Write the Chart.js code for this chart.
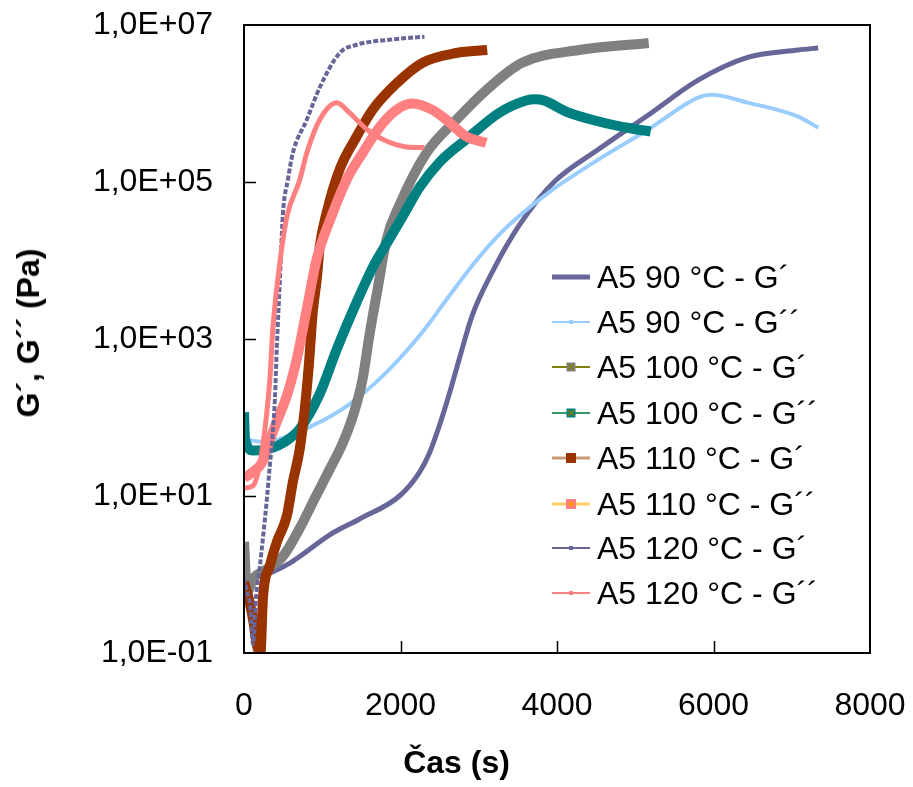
<!DOCTYPE html>
<html>
<head>
<meta charset="utf-8">
<script src="https://cdn.jsdelivr.net/npm/chart.js@4.4.1/dist/chart.umd.min.js"></script>
<style>
  html, body { margin: 0; padding: 0; background: #fff; }
  #wrap { position: relative; width: 913px; height: 787px; font-family: "Liberation Sans", Arial, sans-serif; color: #000; }
  #chart { position: absolute; left: 0; top: 0; }
  .ttl { position: absolute; font-weight: bold; font-size: 32px; line-height: 32px; white-space: nowrap; }
  #xTitle { left: 0; width: 913px; text-align: center; top: 746px; }
  #yTitle { left: 28px; top: 333px; transform: translate(-50%, -50%) rotate(-90deg); }
  .leg-row { position: absolute; left: 552px; height: 32px; display: flex; align-items: center; font-size: 32px; line-height: 32px; white-space: nowrap; }
  .leg-row svg { width: 45px; height: 32px; flex: none; }
</style>
</head>
<body>
<div id="wrap">
  <canvas id="chart" width="913" height="787"></canvas>
  <div class="ttl" id="xTitle">Čas (s)</div>
  <div class="ttl" id="yTitle">G´, G´´ (Pa)</div>
  <div id="legend"></div>
</div>
<script>
// Axis ticks
const xTicks = [0, 2000, 4000, 6000, 8000];
const yTicks = [0.1, 10, 1000, 1e5, 1e7];

const seriesNames = [
  'A5 90 °C - G´', 'A5 90 °C - G´´', 'A5 100 °C - G´', 'A5 100 °C - G´´',
  'A5 110 °C - G´', 'A5 110 °C - G´´', 'A5 120 °C - G´', 'A5 120 °C - G´´'
];

// time (s) and modulus (Pa)
const t90G1 = [300, 586, 713, 1096, 1478, 1987, 2242, 2369, 2497, 2624, 2752, 2917, 3172, 3516, 3962, 4535, 5172, 5809, 6446, 7083, 7338];
const g90G1 = [1.0, 1.4, 1.7, 3.2, 5.1, 10, 20, 35, 79, 200, 560, 2000, 7100, 28000, 100000, 263000, 720000, 2.0e6, 3.9e6, 4.8e6, 5.1e6];

const t90G2 = [20, 268, 586, 841, 1096, 1350, 1669, 1987, 2306, 2624, 2943, 3261, 3580, 3898, 4535, 5172, 5809, 5975, 6446, 7083, 7338];
const g90G2 = [52, 49, 59, 76, 102, 148, 270, 560, 1320, 3550, 9300, 21400, 41700, 74000, 195000, 470000, 1.2e6, 1.29e6, 1.02e6, 680000, 490000];

const t100G1 = [0, 40, 120, 250, 497, 713, 904, 1096, 1261, 1389, 1516, 1605, 1707, 1822, 1987, 2331, 2714, 3134, 3554, 4280, 5172];
const g100G1 = [2.6, 0.6, 0.9, 1.1, 1.7, 3.9, 9.3, 22, 47, 102, 310, 1150, 4300, 18600, 51000, 234000, 620000, 1.6e6, 3.3e6, 4.8e6, 5.9e6];

const t100G2 = [0, 13, 115, 331, 522, 713, 968, 1185, 1440, 1643, 1860, 2051, 2242, 2497, 2841, 3261, 3605, 3720, 3834, 4115, 4535, 4955, 5197];
const g100G2 = [117, 54, 38, 40, 49, 72, 200, 740, 2950, 8100, 19000, 40000, 85000, 178000, 350000, 760000, 1.09e6, 1.13e6, 1.09e6, 790000, 590000, 480000, 440000];

const t110G1 = [0, 60, 120, 170, 210, 242, 331, 420, 548, 624, 713, 777, 828, 879, 930, 968, 1057, 1223, 1440, 1643, 1949, 2280, 2714, 3108];
const g110G1 = [0.8, 0.5, 0.25, 0.12, 0.1, 0.5, 1.3, 2.6, 5.6, 15, 40, 130, 460, 2200, 5800, 15000, 41000, 145000, 380000, 830000, 1.8e6, 3.3e6, 4.4e6, 4.8e6];

const t110G2 = [0, 76, 242, 306, 420, 548, 675, 802, 930, 1096, 1312, 1516, 1733, 1949, 2153, 2408, 2586, 2841, 3096];
const g110G2 = [17, 19, 28, 44, 89, 190, 560, 2400, 10500, 32000, 107000, 234000, 500000, 830000, 1.0e6, 830000, 620000, 380000, 316000];

const t120G1 = [0, 40, 80, 115, 153, 204, 242, 293, 331, 369, 395, 420, 459, 497, 561, 624, 802, 968, 1223, 1440, 1860, 2306];
const g120G1 = [0.9, 0.6, 0.4, 0.13, 0.5, 1.3, 2.9, 9.3, 25, 66, 174, 810, 5800, 39000, 107000, 234000, 620000, 1.6e6, 4.4e6, 5.6e6, 6.5e6, 7.1e6];

const t120G2 = [0, 115, 204, 268, 331, 369, 459, 548, 713, 802, 968, 1185, 1350, 1567, 1771, 2076, 2306];
const g120G2 = [12.6, 13.5, 26, 72, 310, 1350, 9500, 36000, 107000, 234000, 620000, 1.02e6, 760000, 470000, 350000, 280000, 275000];

const seriesT = [t90G1, t90G2, t100G1, t100G2, t110G1, t110G2, t120G1, t120G2];
const seriesG = [g90G1, g90G2, g100G1, g100G2, g110G1, g110G2, g120G1, g120G2];

const lineColors = ['#666699', '#99CCFF', '#808080', '#008080', '#993300', '#FF8080', '#666699', '#FF8080'];
const lineWidths = [5, 4, 10, 10, 10, 10, 4, 5];

// legend symbols (line colour, line width, marker colour, marker size)
const legLine = ['#666699', '#99CCFF', '#808000', '#339966', '#CC9977', '#FFCC66', '#666699', '#FF8080'];
const legLineW = [5, 2, 2, 2, 3, 3, 2, 2];
const legMark = ['#666699', '#99CCFF', '#808080', '#008080', '#993300', '#FF8080', '#666699', '#FF8080'];
const legMarkS = [3, 4, 9, 9, 10, 10, 4, 4];
const legRowY = [277, 322, 367, 413, 458, 504, 548, 593];

function sci(v) {
  const e = Math.round(Math.log10(v));
  return '1,0E' + (e < 0 ? '-' : '+') + String(Math.abs(e)).padStart(2, '0');
}

const datasets = seriesT.map((ts, i) => ({
  label: seriesNames[i],
  data: ts.map((t, j) => ({ x: t, y: seriesG[i][j] })),
  showLine: true,
  borderColor: lineColors[i],
  backgroundColor: lineColors[i],
  borderWidth: lineWidths[i],
  borderDash: i === 6 ? [5, 2] : [],
  pointRadius: 0,
  cubicInterpolationMode: 'monotone',
  borderJoinStyle: 'round',
  order: 7 - i
}));

const frame = {
  id: 'frame',
  afterDraw(chart) {
    const { ctx, chartArea: a, scales: { x, y } } = chart;
    ctx.save();
    ctx.strokeStyle = '#000';
    ctx.lineWidth = 1.5;
    ctx.beginPath();
    xTicks.slice(1, -1).forEach(v => {
      const px = Math.round(x.getPixelForValue(v)) + 0.5;
      ctx.moveTo(px, a.bottom); ctx.lineTo(px, a.bottom - 12);
    });
    yTicks.slice(1, -1).forEach(v => {
      const py = Math.round(y.getPixelForValue(v)) + 0.5;
      ctx.moveTo(a.left, py); ctx.lineTo(a.left + 12, py);
    });
    ctx.stroke();
    ctx.lineWidth = 2;
    ctx.strokeRect(a.left, a.top, a.right - a.left, a.bottom - a.top);
    ctx.restore();
  }
};

new Chart(document.getElementById('chart'), {
  type: 'scatter',
  data: { datasets },
  options: {
    responsive: false,
    animation: false,
    layout: { padding: { top: 25, right: 43, bottom: 0, left: 0 } },
    plugins: { legend: { display: false }, tooltip: { enabled: false } },
    scales: {
      x: {
        type: 'linear', min: 0, max: 8000,
        afterBuildTicks: s => { s.ticks = xTicks.map(v => ({ value: v })); },
        afterFit: s => { s.height = 134; s.paddingLeft = 0; s.paddingRight = 0; },
        grid: { display: false, drawTicks: false },
        border: { display: false },
        ticks: { color: '#000', padding: 34, maxRotation: 0, callback: v => String(v), font: { family: '"Liberation Sans", Arial', size: 32 } }
      },
      y: {
        type: 'logarithmic', min: 0.1, max: 1e7,
        afterBuildTicks: s => { s.ticks = yTicks.map(v => ({ value: v })); },
        afterFit: s => { s.width = 244; s.paddingTop = 0; s.paddingBottom = 0; },
        grid: { display: false, drawTicks: false },
        border: { display: false },
        ticks: { color: '#000', padding: 31, callback: v => sci(v), font: { family: '"Liberation Sans", Arial', size: 32 } }
      }
    }
  },
  plugins: [frame]
});

// Legend
const legend = document.getElementById('legend');
seriesNames.forEach((name, i) => {
  const row = document.createElement('div');
  row.className = 'leg-row';
  row.style.top = (legRowY[i] - 16) + 'px';
  const m = legMarkS[i];
  let extra = '';
  if (i === 2 || i === 3) {
    extra = `<path d="M16 13 L22 19 M22 13 L16 19" stroke="#808000" stroke-width="1.5"/>`;
  } else if (i === 5) {
    extra = `<path d="M19 13 L22 16 L19 19 L16 16 Z" fill="#FF9900"/>`;
  }
  row.innerHTML = `<svg viewBox="0 0 45 32">
      <line x1="0" y1="16" x2="38" y2="16" stroke="${legLine[i]}" stroke-width="${legLineW[i]}"/>
      <rect x="${19 - m / 2}" y="${16 - m / 2}" width="${m}" height="${m}" fill="${legMark[i]}"/>
      ${extra}
    </svg><span>${name}</span>`;
  legend.appendChild(row);
});
</script>
</body>
</html>
